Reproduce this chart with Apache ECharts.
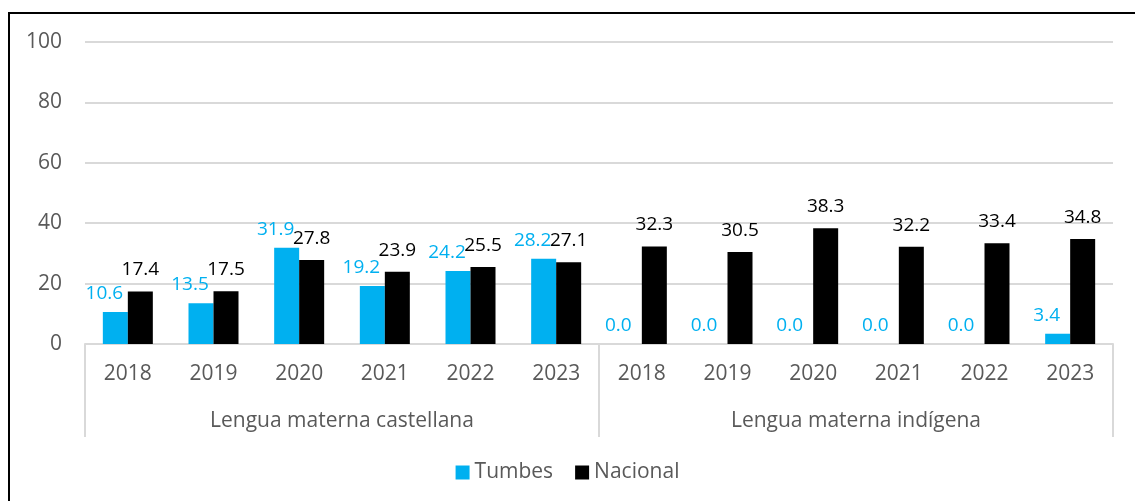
<!DOCTYPE html>
<html>
<head>
<meta charset="utf-8">
<script src="https://cdn.jsdelivr.net/npm/echarts@6/dist/echarts.min.js"></script>
<style>
  html, body { margin: 0; padding: 0; background: #fff; }
  #chart { width: 1135px; height: 501px; position: relative; }
  #frame { position: absolute; left: 8px; top: 12px; width: 1140px; height: 500px;
           border-left: 2px solid #000; border-top: 2px solid #000; pointer-events: none; }
</style>
</head>
<body>
<div style="position:relative;width:1135px;height:501px;overflow:hidden">
  <div id="chart"></div>
  <div id="frame"></div>
</div>
<script>
// datos
const years = ['2018', '2019', '2020', '2021', '2022', '2023',
               '2018', '2019', '2020', '2021', '2022', '2023'];
const groups = ['Lengua materna castellana', 'Lengua materna indígena'];
const tumbes = [10.6, 13.5, 31.9, 19.2, 24.2, 28.2, 0.0, 0.0, 0.0, 0.0, 0.0, 3.4];
const nacional = [17.4, 17.5, 27.8, 23.9, 25.5, 27.1, 32.3, 30.5, 38.3, 32.2, 33.4, 34.8];
const yTicks = { min: 0, max: 100, step: 20 };

const font = '"Open Sans", sans-serif';
const chart = echarts.init(document.getElementById('chart'));

chart.setOption({
  animation: false,
  textStyle: { fontFamily: font },
  grid: { left: 85, right: 22, top: 42, bottom: 157 },
  legend: {
    bottom: 13,
    left: 'center',
    icon: 'rect',
    itemWidth: 14,
    itemHeight: 14,
    itemGap: 22,
    itemTextGap: 6,
    textStyle: { fontSize: 21, color: '#595959', fontFamily: font },
    data: ['Tumbes', 'Nacional']
  },
  xAxis: [
    {
      type: 'category',
      data: years,
      axisLine: { lineStyle: { color: '#d9d9d9', width: 2 } },
      axisTick: { show: false },
      axisLabel: { fontSize: 21, color: '#595959', margin: 20, interval: 0 }
    },
    {
      type: 'category',
      data: groups,
      position: 'bottom',
      axisLine: { show: false },
      axisTick: { show: true, length: 93, lineStyle: { color: '#d9d9d9', width: 2 } },
      axisLabel: { fontSize: 21, color: '#595959', margin: 67 }
    }
  ],
  yAxis: {
    type: 'value',
    min: yTicks.min,
    max: yTicks.max,
    interval: yTicks.step,
    axisLine: { show: false },
    axisTick: { show: false },
    axisLabel: { fontSize: 21, color: '#595959', margin: 23 },
    splitLine: { lineStyle: { color: '#d9d9d9', width: 2 } }
  },
  series: [
    {
      name: 'Tumbes',
      type: 'bar',
      data: tumbes,
      barWidth: 25,
      barGap: '0%',
      itemStyle: { color: '#00b0f0' },
      label: {
        show: true, position: 'top', offset: [-11, -4],
        fontSize: 19, color: '#00b0f0',
        formatter: p => p.value.toFixed(1)
      }
    },
    {
      name: 'Nacional',
      type: 'bar',
      data: nacional,
      barWidth: 25,
      barGap: '0%',
      itemStyle: { color: '#000000' },
      label: {
        show: true, position: 'top', offset: [0, -7],
        fontSize: 19, color: '#000000',
        formatter: p => p.value.toFixed(1)
      }
    }
  ]
});
</script>
</body>
</html>
